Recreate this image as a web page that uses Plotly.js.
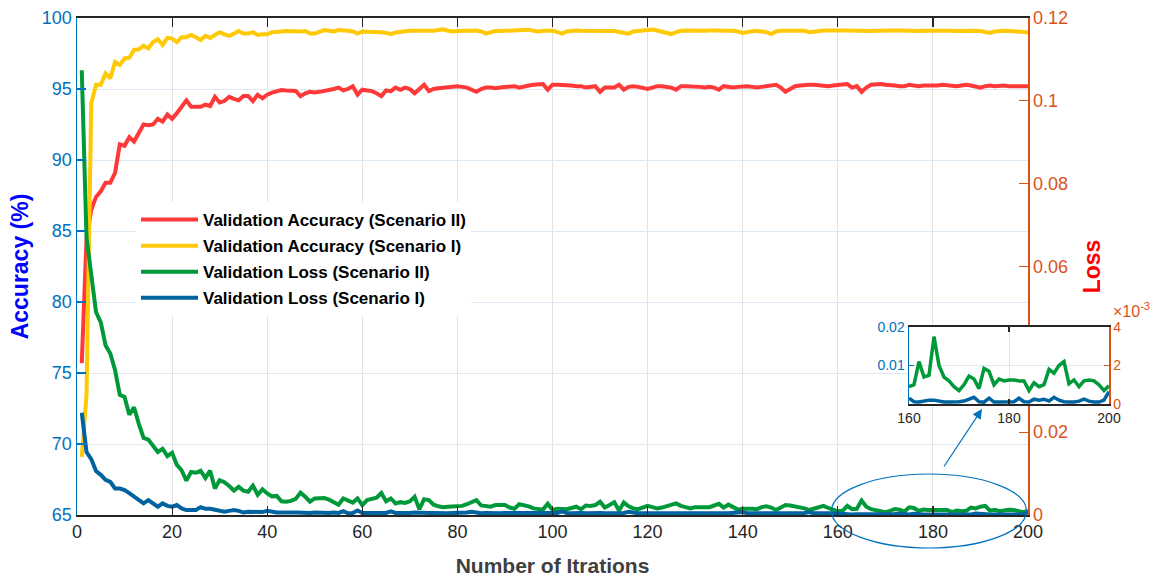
<!DOCTYPE html>
<html>
<head>
<meta charset="utf-8">
<script src="https://cdn.plot.ly/plotly-3.0.1.min.js"></script>
<style>
  html, body { margin: 0; padding: 0; background: #ffffff; }
  #wrap { position: relative; width: 1151px; height: 577px; }
  #main, #inset { position: absolute; left: 0; top: 0; width: 1151px; height: 577px; }
  #inset { pointer-events: none; }
</style>
</head>
<body>
<div id="wrap">
  <div id="main"></div>
  <div id="inset"></div>
</div>
<script>
// ---------------- data ----------------
const seriesNames = [
  'Validation Accuracy (Scenario II)',
  'Validation Accuracy (Scenario I)',
  'Validation Loss (Scenario II)',
  'Validation Loss (Scenario I)'
];

const iterations = [];
for (let i = 1; i <= 200; i++) iterations.push(i);

const accScenario2 = [
  75.7, 84.4, 86.5, 87.4, 87.8, 88.4, 88.4, 89.1, 91.1, 91.0,
  91.6, 91.3, 91.9, 92.5, 92.45, 92.5, 92.9, 92.7, 93.2, 92.9,
  93.3, 93.7, 94.2, 93.75, 93.75, 93.75, 93.9, 93.8, 94.45, 94.05,
  94.15, 94.45, 94.3, 94.2, 94.5, 94.5, 94.15, 94.6, 94.35, 94.6,
  94.75, 94.86, 94.93, 94.9, 94.9, 94.86, 94.5, 94.7, 94.8, 94.75,
  94.8, 94.85, 94.95, 95.0, 95.1, 94.9, 95.0, 95.2, 94.6, 94.95,
  94.9, 94.85, 94.7, 94.5, 94.9, 94.85, 95.1, 94.95, 95.1, 95.0,
  94.7, 95.0, 95.3, 94.85, 95.0, 95.05, 95.1, 95.1, 95.15, 95.2,
  95.15, 95.1, 94.95, 94.8, 95.0, 95.1, 95.1, 95.05, 95.1, 95.15,
  95.2, 95.2, 95.1, 95.2, 95.25, 95.3, 95.3, 95.35, 94.95, 95.3,
  95.3, 95.3, 95.3, 95.25, 95.2, 95.2, 95.1, 95.15, 95.2, 94.8,
  95.1, 95.1, 95.1, 95.3, 94.95, 95.15, 95.2, 95.15, 95.1, 95.0,
  95.1, 95.2, 95.2, 95.15, 95.1, 94.95, 95.2, 95.2, 95.2, 95.2,
  95.15, 95.1, 95.15, 95.1, 94.95, 95.2, 95.15, 95.1, 95.15, 95.2,
  95.2, 95.15, 95.1, 95.15, 95.2, 95.25, 95.3, 95.1, 94.8, 95.0,
  95.2, 95.25, 95.3, 95.3, 95.3, 95.25, 95.2, 95.2, 95.25, 95.3,
  95.3, 95.35, 95.1, 95.2, 94.8, 95.1, 95.3, 95.35, 95.35, 95.3,
  95.3, 95.25, 95.2, 95.2, 95.3, 95.25, 95.2, 95.25, 95.25, 95.2,
  95.25, 95.3, 95.25, 95.25, 95.2, 95.25, 95.3, 95.25, 95.2, 95.1,
  95.2, 95.25, 95.2, 95.25, 95.25, 95.2, 95.2, 95.25, 95.2, 95.2
];

const accScenario1 = [
  69.1, 73.5, 94.0, 95.3, 95.3, 96.1, 95.75, 96.9, 96.7, 97.15,
  97.2, 97.75, 97.8, 98.05, 97.86, 98.3, 98.5, 98.1, 98.6, 98.55,
  98.3, 98.65, 98.65, 98.8, 98.65, 98.45, 98.75, 98.6, 98.8, 99.0,
  98.85, 98.75, 98.9, 99.08, 98.9, 98.9, 99.0, 98.8, 98.85, 98.85,
  99.0, 99.0, 99.05, 99.08, 99.05, 99.03, 99.05, 99.08, 98.9, 98.9,
  99.0, 99.15, 99.1, 99.05, 99.15, 99.15, 99.1, 99.05, 98.9, 99.05,
  99.05, 99.05, 99.05, 99.0, 98.95, 98.87, 98.98, 99.03, 99.08, 99.1,
  99.1, 99.1, 99.08, 99.03, 99.1, 99.15, 99.2, 99.1, 99.05, 99.08,
  99.1, 99.1, 99.1, 99.12, 99.05, 98.9, 99.0, 99.08, 99.08, 99.1,
  99.12, 99.1, 99.1, 99.15, 99.18, 99.1, 99.05, 99.1, 99.12, 99.1,
  99.0, 98.9, 99.05, 99.1, 99.12, 99.1, 99.1, 99.08, 99.1, 99.12,
  99.08, 99.05, 99.08, 99.02, 98.95, 98.9, 99.05, 99.12, 99.12, 99.15,
  99.18, 99.12, 99.05, 98.95, 98.87, 99.0, 99.1, 99.12, 99.1, 99.1,
  99.12, 99.1, 99.12, 99.15, 99.12, 99.1, 99.12, 99.1, 99.05, 98.95,
  99.02, 99.08, 99.1, 99.05, 99.0, 98.87, 99.05, 99.1, 99.1, 99.12,
  99.1, 99.12, 99.1, 99.0, 99.05, 99.1, 99.12, 99.12, 99.1, 99.1,
  99.12, 99.12, 99.1, 99.1, 99.12, 99.1, 99.08, 99.1, 99.12, 99.1,
  99.1, 99.12, 99.12, 99.1, 99.12, 99.1, 99.08, 99.1, 99.12, 99.12,
  99.1, 99.1, 99.12, 99.1, 99.08, 99.1, 99.1, 99.12, 99.1, 99.08,
  99.05, 98.95, 99.05, 99.1, 99.1, 99.08, 99.08, 99.05, 99.02, 98.98
];

const lossScenario2 = [
  0.1074, 0.067, 0.058, 0.049, 0.0465, 0.041, 0.039, 0.035, 0.029, 0.0285,
  0.0242, 0.026, 0.022, 0.0186, 0.0182, 0.0166, 0.0152, 0.016, 0.0142, 0.015,
  0.0121, 0.0108, 0.0083, 0.0104, 0.0102, 0.0107, 0.0089, 0.0107, 0.0064, 0.0084,
  0.0079, 0.007, 0.0059, 0.0068, 0.0059, 0.0056, 0.0071, 0.0049, 0.0062, 0.0052,
  0.0045, 0.0046, 0.0033, 0.0032, 0.0034, 0.0039, 0.0054, 0.0044, 0.0032, 0.004,
  0.004, 0.0041, 0.0037, 0.0032, 0.0025, 0.004, 0.0034, 0.003, 0.004, 0.0024,
  0.0036, 0.0039, 0.0042, 0.0053, 0.0033, 0.004, 0.0028, 0.0031, 0.0029, 0.0033,
  0.0044, 0.0014, 0.0038, 0.0036, 0.0025, 0.0021, 0.0019, 0.002, 0.002, 0.0021,
  0.0022, 0.0026, 0.0031, 0.0036, 0.0023, 0.0021, 0.002, 0.0024, 0.0023, 0.0024,
  0.0018, 0.0015, 0.0026, 0.0024, 0.0021, 0.0016, 0.0014, 0.0013, 0.0027, 0.0012,
  0.0015, 0.0015, 0.0014, 0.0017, 0.002, 0.0014, 0.0023, 0.0022, 0.0024, 0.0032,
  0.0018, 0.0024, 0.0031, 0.0011, 0.003, 0.0021, 0.0016, 0.0014, 0.0018, 0.0022,
  0.0019, 0.0016, 0.0018, 0.0021, 0.0024, 0.0028, 0.0022, 0.0019, 0.0016, 0.0019,
  0.002, 0.0019, 0.0019, 0.0022, 0.0027, 0.0018, 0.0025, 0.0019, 0.0013, 0.0015,
  0.0016, 0.0015, 0.0014, 0.0019, 0.0021, 0.0018, 0.0012, 0.0018, 0.0024, 0.0023,
  0.0021, 0.002, 0.0016, 0.0012, 0.0015, 0.0019, 0.0022, 0.0017, 0.0014, 0.0009,
  0.001, 0.0022, 0.0014, 0.0015, 0.0035, 0.002, 0.0014, 0.0012, 0.0009, 0.0007,
  0.001, 0.00145, 0.0013, 0.0008, 0.00185, 0.0017, 0.001, 0.0013, 0.0012, 0.00125,
  0.00125, 0.0012, 0.0012, 0.0007, 0.0011, 0.0009, 0.001, 0.0018, 0.0016, 0.002,
  0.0022, 0.00105, 0.00125, 0.0009, 0.0012, 0.00125, 0.0012, 0.001, 0.0007, 0.00095
];

const lossScenario1 = [
  0.0247, 0.0152, 0.0135, 0.0106, 0.0097, 0.0085, 0.008, 0.0064, 0.0064, 0.006,
  0.0053, 0.0045, 0.0037, 0.0028, 0.0036, 0.0027, 0.002, 0.0028, 0.0022, 0.002,
  0.0024, 0.0016, 0.0012, 0.0012, 0.0012, 0.0019, 0.0015, 0.0015, 0.0012, 0.001,
  0.0008, 0.001, 0.0012, 0.001, 0.0006, 0.0008, 0.0008, 0.0006, 0.0007, 0.001,
  0.0007, 0.0006, 0.0006, 0.0005, 0.0006, 0.0006, 0.0005, 0.0005, 0.0005, 0.0006,
  0.0005, 0.0004, 0.0005, 0.0006, 0.0005, 0.0009, 0.0004, 0.0005, 0.0011, 0.0005,
  0.0006, 0.0005, 0.0005, 0.0006, 0.0005, 0.0009, 0.0005, 0.0005, 0.0004, 0.0005,
  0.0006, 0.0005, 0.0004, 0.0005, 0.0005, 0.0004, 0.0005, 0.0004, 0.0005, 0.0005,
  0.0004, 0.0006, 0.0008, 0.0005, 0.0004, 0.0005, 0.0004, 0.0005, 0.0004, 0.0005,
  0.0005, 0.0004, 0.0005, 0.0005, 0.0004, 0.0005, 0.0004, 0.0005, 0.0005, 0.0004,
  0.0005, 0.0009, 0.0005, 0.0004, 0.0005, 0.0005, 0.0004, 0.0005, 0.0004, 0.0005,
  0.0004, 0.0004, 0.0005, 0.0004, 0.0005, 0.0008, 0.0005, 0.0004, 0.0004, 0.0005,
  0.0004, 0.0004, 0.0005, 0.0004, 0.0004, 0.0005, 0.0004, 0.0004, 0.0005, 0.0004,
  0.0004, 0.0005, 0.0004, 0.0004, 0.0005, 0.0004, 0.0004, 0.0005, 0.0004, 0.0007,
  0.0004, 0.0004, 0.0005, 0.0004, 0.0004, 0.0006, 0.0004, 0.0004, 0.0005, 0.0004,
  0.0004, 0.0004, 0.0005, 0.0007, 0.0004, 0.0004, 0.0005, 0.0004, 0.0004, 0.0003,
  0.00012, 0.0001, 0.00015, 0.0002, 0.0002, 0.00015, 0.0001, 0.0001, 0.0001, 0.00012,
  0.00015, 0.00025, 0.00035, 0.00012, 0.0001, 0.0003, 0.0001, 0.0001, 0.0001, 0.0001,
  0.00012, 0.0003, 0.00012, 0.0001, 0.00025, 0.0002, 0.00025, 0.00015, 0.00035, 0.0002,
  0.00012, 0.0001, 0.0001, 0.00015, 0.00025, 0.00015, 0.0001, 0.0001, 0.0002, 0.00064
];

const xTickVals = [0, 20, 40, 60, 80, 100, 120, 140, 160, 180, 200];
const accTickVals = [65, 70, 75, 80, 85, 90, 95, 100];
const lossTickVals = [0, 0.02, 0.04, 0.06, 0.08, 0.1, 0.12];
const lossTickText = ['0', '0.02', '0.04', '0.06', '0.08', '0.1', '0.12'];
const insetStart = 160;
const insetXTicks = [160, 180, 200];
const insetLeftTicks = [0.01, 0.02];
const insetRightTicks = [0, 0.002, 0.004];
const insetRightText = ['0', '2', '4'];

// ---------------- style ----------------
const C_RED = '#FF3838', C_YEL = '#FFC905', C_GRN = '#00993A', C_BLU = '#00629E';
const C_AXL = '#0072BD', C_AXR = '#D95319', C_DARK = '#262626';
const FONT = 'Liberation Sans, Arial, Helvetica, sans-serif';

const mainTraces = [
  {x: iterations, y: accScenario2, name: seriesNames[0], yaxis: 'y', legendgroup: 'a',
   type: 'scatter', mode: 'lines', line: {color: C_RED, width: 4}},
  {x: iterations, y: accScenario1, name: seriesNames[1], yaxis: 'y', legendgroup: 'b',
   type: 'scatter', mode: 'lines', line: {color: C_YEL, width: 4}},
  {x: iterations, y: lossScenario2, name: seriesNames[2], yaxis: 'y2', legendgroup: 'c',
   type: 'scatter', mode: 'lines', line: {color: C_GRN, width: 4}},
  {x: iterations, y: lossScenario1, name: seriesNames[3], yaxis: 'y2', legendgroup: 'd',
   type: 'scatter', mode: 'lines', line: {color: C_BLU, width: 4}}
];

const L = 77, R = 1028, T = 18, B = 515;
function px2x(p) { return (p - L) / (R - L); }
function px2y(p) { return (B - p) / (B - T); }

const mainLayout = {
  width: 1151, height: 577,
  margin: {l: L, r: 1151 - R, t: T, b: 577 - B, pad: 0},
  paper_bgcolor: '#ffffff', plot_bgcolor: '#ffffff',
  font: {family: FONT, size: 18, color: C_DARK},
  showlegend: true,
  legend: {
    x: px2x(136), y: px2y(202), xanchor: 'left', yanchor: 'top',
    bgcolor: '#ffffff', borderwidth: 0, tracegroupgap: 1, itemwidth: 57,
    font: {family: FONT, size: 17, color: '#000000', weight: 'bold'}
  },
  xaxis: {
    range: [0, 200], tickvals: xTickVals, ticks: 'inside', ticklen: 9, tickwidth: 1.2,
    tickcolor: C_DARK, showline: true, linecolor: C_DARK, linewidth: 1.7, mirror: 'ticks',
    showgrid: true, gridcolor: '#E2E2E2', gridwidth: 1, zeroline: false,
    tickfont: {family: FONT, size: 18, color: C_DARK},
    title: {text: 'Number of Itrations', font: {family: FONT, size: 21, color: '#404040', weight: 'bold'}, standoff: 17}
  },
  yaxis: {
    range: [65, 100], tickvals: accTickVals, ticks: 'inside', ticklen: 9, tickwidth: 1.2,
    tickcolor: C_AXL, showline: true, linecolor: C_AXL, linewidth: 1.5,
    showgrid: true, gridcolor: '#DCE9F5', gridwidth: 1, zeroline: false,
    tickfont: {family: FONT, size: 18, color: C_AXL},
    title: {text: 'Accuracy (%)', font: {family: FONT, size: 23, color: '#0000FF', weight: 'bold'}, standoff: 7}
  },
  yaxis2: {
    overlaying: 'y', side: 'right', range: [0, 0.12], tickvals: lossTickVals, ticktext: lossTickText,
    ticks: 'inside', ticklen: 9, tickwidth: 1.2, tickcolor: C_AXR,
    showline: true, linecolor: C_AXR, linewidth: 1.5, showgrid: false, zeroline: false,
    tickfont: {family: FONT, size: 18, color: C_AXR},
    title: {text: 'Loss', font: {family: FONT, size: 23, color: '#FF0000', weight: 'bold'}, standoff: 17}
  },
  shapes: [
    {type: 'circle', xref: 'paper', yref: 'paper',
     x0: px2x(831.5), x1: px2x(1026.5), y0: px2y(548), y1: px2y(474),
     line: {color: C_AXL, width: 1.2}, fillcolor: 'rgba(0,0,0,0)', layer: 'above'}
  ],
  annotations: [
    {xref: 'paper', yref: 'paper', x: px2x(982), y: px2y(409), text: '',
     showarrow: true, ax: -39, ay: 59, arrowcolor: C_AXL, arrowwidth: 1.2,
     arrowhead: 2, arrowsize: 1.6, standoff: 0}
  ]
};

Plotly.newPlot('main', mainTraces, mainLayout, {staticPlot: true, displayModeBar: false});

// ---------------- inset ----------------
const iStart = iterations.indexOf(insetStart);
const insetTraces = [
  // holder so that the left (blue) inset axis is drawn; it carries no visible point
  {x: [insetStart], y: [null], yaxis: 'y', type: 'scatter', mode: 'lines',
   line: {color: C_AXL, width: 0}, showlegend: false, hoverinfo: 'skip'},
  {x: iterations.slice(iStart), y: lossScenario2.slice(iStart), yaxis: 'y2',
   type: 'scatter', mode: 'lines', line: {color: C_GRN, width: 3.5}, showlegend: false},
  {x: iterations.slice(iStart), y: lossScenario1.slice(iStart), yaxis: 'y2',
   type: 'scatter', mode: 'lines', line: {color: C_BLU, width: 3.5}, showlegend: false}
];

const IL = 909, IR = 1109, IT = 327, IB = 404;
const insetLayout = {
  width: 1151, height: 577,
  margin: {l: IL, r: 1151 - IR, t: IT, b: 577 - IB, pad: 0},
  paper_bgcolor: 'rgba(0,0,0,0)', plot_bgcolor: '#ffffff',
  font: {family: FONT, size: 14, color: C_DARK},
  showlegend: false,
  xaxis: {
    range: [160, 200], tickvals: insetXTicks, ticks: 'inside', ticklen: 5, tickwidth: 1.2,
    tickcolor: C_DARK, showline: true, linecolor: C_DARK, linewidth: 1.7, mirror: 'ticks',
    showgrid: true, gridcolor: '#E2E2E2', zeroline: false,
    tickfont: {family: FONT, size: 14, color: C_DARK}
  },
  yaxis: {
    range: [0, 0.02], tickvals: insetLeftTicks, ticks: 'inside', ticklen: 5, tickwidth: 1.2,
    tickcolor: C_AXL, showline: true, linecolor: C_AXL, linewidth: 1.5,
    showgrid: true, gridcolor: '#DCE9F5', zeroline: false,
    tickfont: {family: FONT, size: 14, color: C_AXL}
  },
  yaxis2: {
    overlaying: 'y', side: 'right', range: [0, 0.004], tickvals: insetRightTicks, ticktext: insetRightText,
    ticks: 'inside', ticklen: 5, tickwidth: 1.2, tickcolor: C_AXR,
    showline: true, linecolor: C_AXR, linewidth: 1.5, showgrid: false, zeroline: false,
    tickfont: {family: FONT, size: 14, color: C_AXR}
  },
  annotations: [
    {xref: 'paper', yref: 'paper', x: 1, y: 1, xanchor: 'left', yanchor: 'bottom',
     xshift: 2, yshift: 5, text: '×10<sup>-3</sup>', showarrow: false,
     font: {family: FONT, size: 16, color: C_AXR}}
  ]
};

Plotly.newPlot('inset', insetTraces, insetLayout, {staticPlot: true, displayModeBar: false});
</script>
</body>
</html>
